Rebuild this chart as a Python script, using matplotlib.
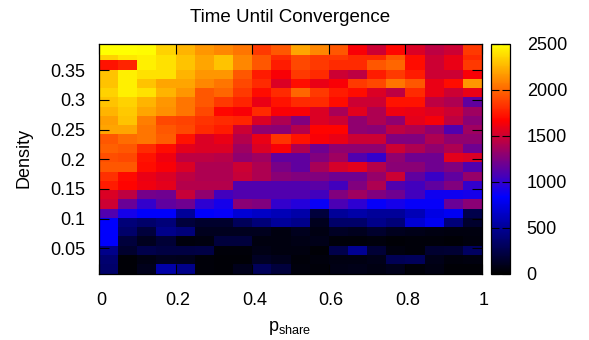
import numpy as np
import matplotlib
matplotlib.use("Agg")
import matplotlib.pyplot as plt
from matplotlib.colors import LinearSegmentedColormap
from matplotlib.transforms import ScaledTranslation

plt.rcParams["font.family"] = "Liberation Sans"
plt.rcParams["mathtext.fontset"] = "custom"
plt.rcParams["mathtext.rm"] = "Liberation Sans"
plt.rcParams["mathtext.default"] = "rm"
plt.rcParams["font.size"] = 13
plt.rcParams["axes.linewidth"] = 0.9

# rows from the top of the plot down, 20 columns of p_share
times = [
    [2500,2500,2490,2350,2250,2150,2100,2050,1850,1950, 2200,2100,1950,1650,1500,1680,1550,1450,1500,1850],
    [2350,2420,2450,2400,2300,2200,2300,2100,1950,1800, 1900,1850,1850,1800,1800,1950,1700,1500,1600,1800],
    [1720,1780,2450,2400,2300,2200,2300,2100,1950,1750, 1900,1850,1800,1800,1950,2000,1700,1500,1600,1850],
    [2300,2450,2400,2400,2250,2150,2150,1950,1750,1650, 1850,1800,1500,1450,1750,1850,1750,1500,1500,1650],
    [2300,2450,2300,2200,2200,2100,2050,1900,1800,1550, 1700,1600,1650,1850,1900,2050,1950,1600,1700,2150],
    [2350,2450,2400,2250,2150,1950,2000,1850,1700,1800, 2000,1850,1750,1700,1550,1450,1800,1600,1500,1600],
    [2300,2350,2250,2150,2050,1950,1850,1780,1600,1720, 1800,1800,1700,1500,1500,1720,1720,1450,1400,1150],
    [2250,2320,2200,2130,2050,1900,1680,1650,1800,1650, 1650,1550,1380,1570,1400,1620,1600,1560,1500,1350],
    [2180,2300,2080,1900,1880,1830,1800,1780,1550,1400, 1250,1550,1500,1300,1400,1300,1580,1640,1450,1280],
    [2200,2200,2050,1950,1900,1800,1750,1500,1300,1280, 1420,1670,1670,1300,1280,1450,1400,1300,1100,1350],
    [1950,2020,2050,1970,1720,1550,1600,1420,1600,1830, 1720,1650,1600,1500,1500,1250,1250,1400,1300,1300],
    [1980,1950,1800,1700,1580,1550,1550,1350,1550,1650, 1400,1200,1300,1300,1300,1500,1400,1300,1400,1200],
    [1920,1900,1720,1620,1450,1450,1430,1300,1350,1150, 1150,1250,1350,1100,1000,1300,1200,1200,1580,1550],
    [1950,1950,1700,1650,1550,1400,1400,1500,1400,1230, 1150,1380,1530,1580,1420,1280,1280,1200,1250,1100],
    [1820,1690,1600,1550,1450,1400,1400,1480,1400,1280, 1250,1250,1200,1200,1320,1500,1150,1020,1150,1320],
    [1750,1670,1620,1580,1420,1420,1420,1100,1100,1100, 1100,1130,1050,1250,1400,1100,1050,1150,1250,1000],
    [1550,1450,1220,1200,1480,1300,1050,1100,1100,1100, 1100,1050,1250,1350,1250,1200,1050,880,880,900],
    [1500,1180,1000,1150,1200,980,900,1280,1250,1000, 950,860,1080,980,850,900,850,850,1180,1280],
    [1100,900,830,830,500,830,850,700,650,600, 550,200,500,550,500,500,600,750,800,250],
    [830,400,350,400,200,150,150,300,400,500, 450,100,350,350,450,400,700,800,400,150],
    [830,350,200,450,400,100,100,100,100,50, 100,60,120,100,150,100,80,60,50,50],
    [830,200,100,180,40,50,200,200,50,50, 70,80,30,30,40,20,30,30,20,40],
    [450,150,250,220,220,230,30,30,70,50, 50,20,250,480,180,50,30,160,170,320],
    [370,20,60,100,90,30,20,20,120,90, 30,40,60,60,80,280,300,80,40,50],
    [350,20,90,550,450,30,20,90,300,200, 40,30,70,80,60,90,30,60,20,20],
]
density_edges = [0.3943, 0.3758, 0.3674, 0.3513, 0.3357, 0.3201, 0.3044, 0.2888, 0.2732,
                 0.2576, 0.2419, 0.2263, 0.2107, 0.1951, 0.1794, 0.1638, 0.1482, 0.1326,
                 0.1169, 0.1013, 0.0857, 0.0701, 0.0544, 0.0388, 0.0232, 0.0075]
pshare_edges = [0, 0.05, 0.1, 0.15, 0.2, 0.25, 0.3, 0.35, 0.4, 0.45, 0.5,
                0.55, 0.6, 0.65, 0.7, 0.75, 0.8, 0.85, 0.9, 0.95, 1]
x_ticks = [0, 0.2, 0.4, 0.6, 0.8, 1]
x_tick_labels = ["0", "0.2", "0.4", "0.6", "0.8", "1"]
y_ticks = [0.05, 0.1, 0.15, 0.2, 0.25, 0.3, 0.35]
y_tick_labels = ["0.05", "0.1", "0.15", "0.2", "0.25", "0.3", "0.35"]
cbar_ticks = [0, 500, 1000, 1500, 2000, 2500]

W, H = 589, 340

cmap = LinearSegmentedColormap.from_list("bbry", ["black", "blue", "red", "yellow"], N=256)

fig = plt.figure(figsize=(W / 100, H / 100), dpi=100)
ax = fig.add_axes([99 / W, 1 - 273.5 / H, 383 / W, 229.5 / H])
im = ax.pcolormesh(pshare_edges, density_edges, times, cmap=cmap, vmin=0, vmax=2500)
ax.set_xlim(0, 1)
ax.set_ylim(density_edges[-1], density_edges[0])
ax.set_xticks(x_ticks, x_tick_labels)
ax.set_yticks(y_ticks, y_tick_labels)
ax.tick_params(axis="both", direction="in", top=True, right=True, length=7, width=0.8, colors="black")
ax.tick_params(axis="x", pad=13)
ax.tick_params(axis="y", pad=10)
# x labels sit a little right of their ticks in the original
for label in ax.get_xticklabels():
    label.set_transform(label.get_transform() + ScaledTranslation(1.5 / 72, 0, fig.dpi_scale_trans))
ax.set_xlabel("p$_{share}$", va="center")
ax.xaxis.set_label_coords(290 / W, 1 - 328 / H, transform=fig.transFigure)
ax.set_ylabel("Density", va="center")
ax.yaxis.set_label_coords(24 / W, 1 - 158 / H, transform=fig.transFigure)
fig.text(290 / W, 1 - 17 / H, "Time Until Convergence", ha="center", va="center", fontsize=13.5)

cax = fig.add_axes([491 / W, 1 - 273.5 / H, 19 / W, 229.5 / H])
cb = fig.colorbar(im, cax=cax)
cb.set_ticks(cbar_ticks)
cb.ax.tick_params(direction="in", left=True, right=True, length=6, width=0.8, pad=12)

fig.savefig("out.png", dpi=100)
